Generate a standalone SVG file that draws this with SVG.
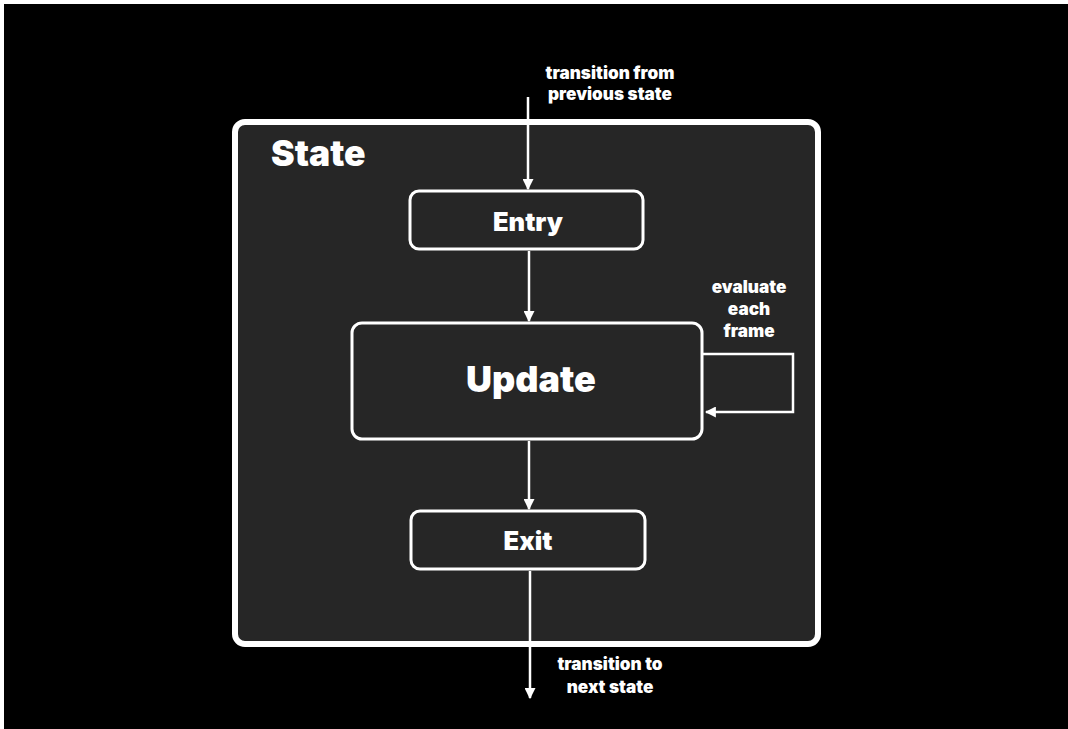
<svg xmlns="http://www.w3.org/2000/svg" width="1068" height="729" viewBox="0 0 1068 729">
<defs>
<marker id="ah" viewBox="0 0 10 10" refX="9" refY="5" markerWidth="4.4" markerHeight="4.4" markerUnits="strokeWidth" orient="auto">
<path d="M0,0 L10,5 L0,10 Z" fill="#ffffff"/>
</marker>
</defs>
<style>
text{font-family:Inter,"Liberation Sans",sans-serif;fill:#ffffff;font-weight:900}
.box{fill:#262626;stroke:#ffffff;stroke-width:3}
.lbl{font-size:25.5px;text-anchor:middle}
.small{font-size:17.2px;text-anchor:middle}
.conn{stroke:#ffffff;stroke-width:2.5;fill:none;marker-end:url(#ah)}
</style>
<rect x="0" y="0" width="1068" height="729" fill="#ffffff"/>
<rect x="4" y="4" width="1064" height="725" fill="#000000"/>
<g id="state">
<rect x="235" y="122" width="583" height="522" rx="10" fill="#262626" stroke="#ffffff" stroke-width="6"/>
<text x="271" y="166" style="font-size:35.5px">State</text>
</g>
<g id="entry">
<rect class="box" x="410" y="191" width="233" height="58" rx="9"/>
<text class="lbl" x="528" y="231">Entry</text>
</g>
<g id="update">
<rect class="box" x="352" y="323" width="350" height="116" rx="10"/>
<text class="lbl" x="531" y="392" style="font-size:36px">Update</text>
</g>
<g id="exit">
<rect class="box" x="411" y="511" width="234" height="58" rx="9"/>
<text class="lbl" x="528" y="550">Exit</text>
</g>
<g id="connectors">
<line class="conn" x1="528" y1="97" x2="528" y2="189"/>
<line class="conn" x1="529" y1="251" x2="529" y2="321"/>
<line class="conn" x1="529" y1="441" x2="529" y2="509"/>
<line class="conn" x1="530" y1="571" x2="530" y2="698"/>
<polyline class="conn" points="703,354 793,354 793,412 706,412"/>
</g>
<g id="labels">
<text class="small" x="610" y="79">transition from</text>
<text class="small" x="610" y="100">previous state</text>
<text class="small" x="749" y="293">evaluate</text>
<text class="small" x="749" y="315">each</text>
<text class="small" x="749" y="337">frame</text>
<text class="small" x="610" y="670">transition to</text>
<text class="small" x="610" y="693">next state</text>
</g>
</svg>
